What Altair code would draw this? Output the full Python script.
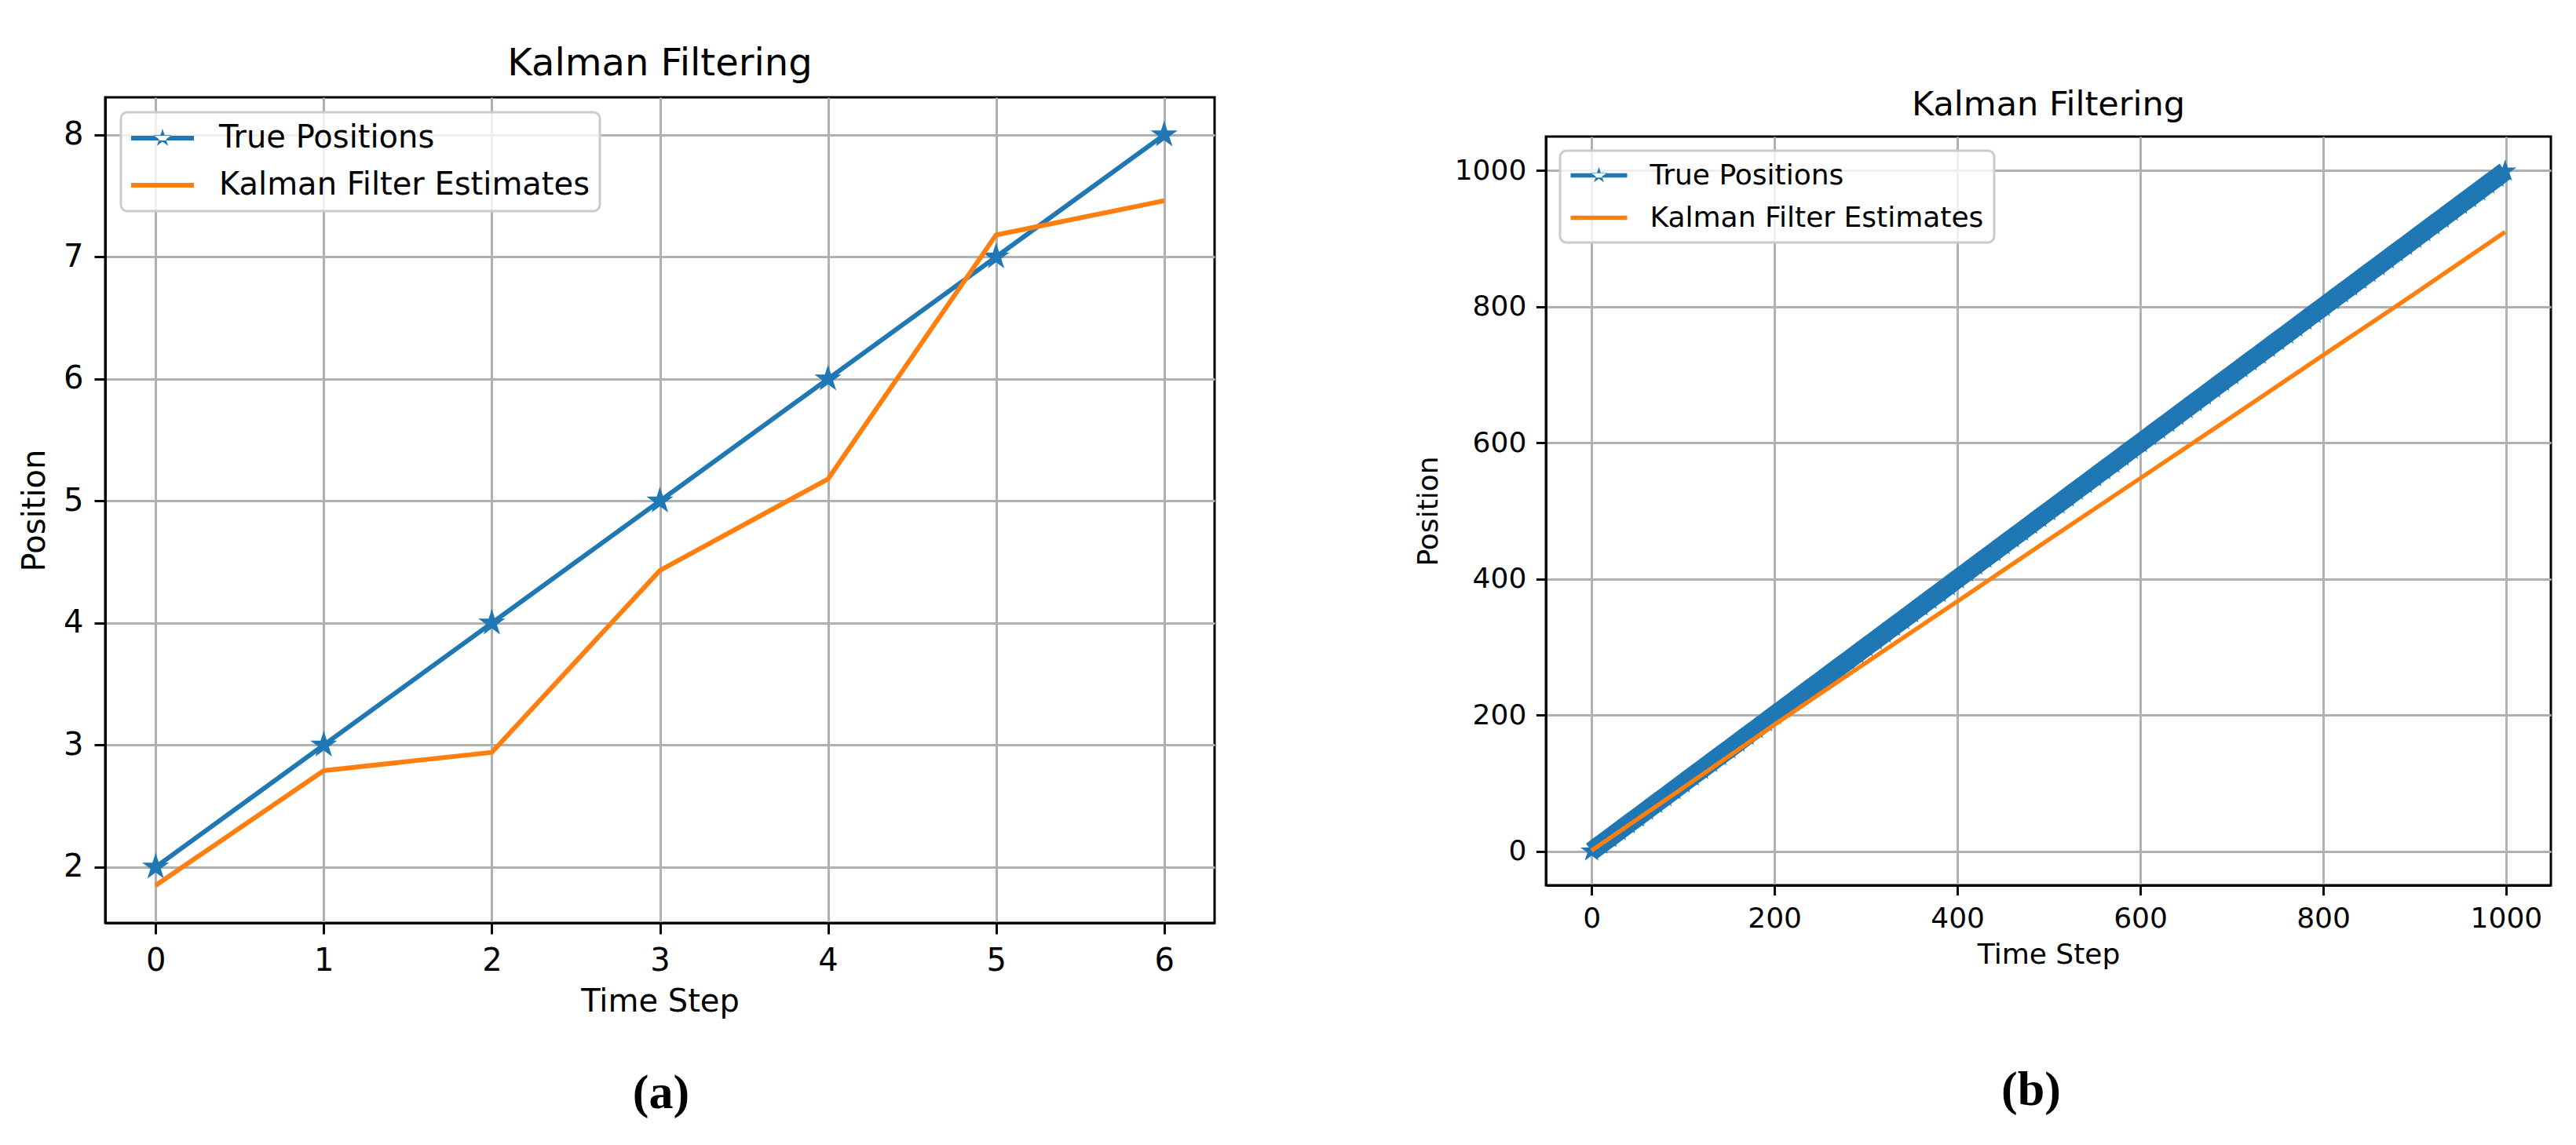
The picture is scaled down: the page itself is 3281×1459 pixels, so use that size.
import altair as alt
import pandas as pd

# ---------------- data ----------------
series_names = ["True Positions", "Kalman Filter Estimates"]
series_colors = ["#1f77b4", "#ff7f0e"]
panel_title = "Kalman Filtering"
x_title = "Time Step"
y_title = "Position"
captions = ["(a)", "(b)"]

# panel (a)
a_steps = [0, 1, 2, 3, 4, 5, 6]
a_true = [2, 3, 4, 5, 6, 7, 8]
a_kalman = [1.85, 2.79, 2.94, 4.43, 5.18, 7.18, 7.46]
a_x_ticks = [0, 1, 2, 3, 4, 5, 6]
a_y_ticks = [2, 3, 4, 5, 6, 7, 8]

# panel (b)
b_true_steps = [0, 10, 20, 30, 40, 50, 60, 70, 80, 90,
                100, 110, 120, 130, 140, 150, 160, 170, 180, 190,
                200, 210, 220, 230, 240, 250, 260, 270, 280, 290,
                300, 310, 320, 330, 340, 350, 360, 370, 380, 390,
                400, 410, 420, 430, 440, 450, 460, 470, 480, 490,
                500, 510, 520, 530, 540, 550, 560, 570, 580, 590,
                600, 610, 620, 630, 640, 650, 660, 670, 680, 690,
                700, 710, 720, 730, 740, 750, 760, 770, 780, 790,
                800, 810, 820, 830, 840, 850, 860, 870, 880, 890,
                900, 910, 920, 930, 940, 950, 960, 970, 980, 990, 999]
b_true = [0, 10, 20, 30, 40, 50, 60, 70, 80, 90,
          100, 110, 120, 130, 140, 150, 160, 170, 180, 190,
          200, 210, 220, 230, 240, 250, 260, 270, 280, 290,
          300, 310, 320, 330, 340, 350, 360, 370, 380, 390,
          400, 410, 420, 430, 440, 450, 460, 470, 480, 490,
          500, 510, 520, 530, 540, 550, 560, 570, 580, 590,
          600, 610, 620, 630, 640, 650, 660, 670, 680, 690,
          700, 710, 720, 730, 740, 750, 760, 770, 780, 790,
          800, 810, 820, 830, 840, 850, 860, 870, 880, 890,
          900, 910, 920, 930, 940, 950, 960, 970, 980, 990, 999]
b_kalman_steps = [0, 100, 200, 300, 400, 500, 600, 700, 800, 900, 999]
b_kalman = [1, 93, 186, 277, 367, 458, 548, 638, 729, 819, 910]
b_ticks = [0, 200, 400, 600, 800, 1000]

# ---------------- symbols ----------------
STAR = ("M0,-1L-0.225,-0.309L-0.951,-0.309L-0.363,0.118L-0.588,0.809"
        "L0,0.382L0.588,0.809L0.363,0.118L0.951,-0.309L0.225,-0.309Z")
# legend handles: a bar spanning 4 units (2x the symbol cell) with optional star
LEG_LINE = "M-1,-0.15H3V0.15H-1Z"
LEG_STAR = ("M-1,-0.15H3V0.15H-1Z"
            "M1,-0.6L0.865,-0.1854L0.4294,-0.1854L0.7822,0.0708L0.6472,0.4854"
            "L1,0.2292L1.3528,0.4854L1.2178,0.0708L1.5706,-0.1854L1.135,-0.1854Z")

FONT = "DejaVu Sans"


def make_axis(values, fs, tick, lw, title_pad):
    return alt.Axis(values=values, format="d", labelFont=FONT, labelFontSize=fs,
                    labelColor="black", titleFont=FONT, titleFontSize=fs,
                    titleFontWeight="normal", titleColor="black", tickSize=tick,
                    tickWidth=lw, tickColor="black", labelPadding=tick,
                    domainColor="black", domainWidth=lw, grid=True,
                    gridColor="#b0b0b0", gridWidth=lw, titlePadding=title_pad,
                    labelFlush=False, labelOverlap=False)


def panel(steps_t, vals_t, steps_k, vals_k, x_dom, y_dom, x_ticks, y_ticks,
          w, h, fs, tick, lw, line_w, true_w, star_size, xt_pad, yt_pad,
          leg_x, leg_y, leg_sym, leg_off, leg_row, leg_pad,
          caption, cap_x, cap_y, cap_fs):
    df_t = pd.DataFrame({"step": steps_t, "value": vals_t, "series": series_names[0]})
    df_k = pd.DataFrame({"step": steps_k, "value": vals_k, "series": series_names[1]})
    df_all = pd.concat([df_t, df_k], ignore_index=True)

    x = alt.X("step:Q", title=x_title,
              scale=alt.Scale(domain=x_dom, nice=False, zero=False),
              axis=make_axis(x_ticks, fs, tick, lw, xt_pad))
    y = alt.Y("value:Q", title=y_title,
              scale=alt.Scale(domain=y_dom, nice=False, zero=False),
              axis=make_axis(y_ticks, fs, tick, lw, yt_pad))

    leg = alt.Legend(title=None, orient="none", legendX=leg_x, legendY=leg_y,
                     direction="vertical", labelFont=FONT, labelFontSize=fs,
                     labelColor="black", symbolSize=leg_sym, symbolStrokeWidth=0,
                     labelOffset=leg_off, rowPadding=leg_row, padding=leg_pad,
                     fillColor="rgba(255,255,255,0.8)", strokeColor="#cccccc",
                     cornerRadius=8, symbolOpacity=1, labelLimit=2000)

    true_line = alt.Chart(df_t).mark_line(strokeWidth=true_w).encode(
        x=x, y=y, color=alt.value(series_colors[0]))
    stars = alt.Chart(df_t).mark_point(shape=STAR, filled=True, size=star_size,
                                       opacity=1, strokeWidth=0).encode(
        x=x, y=y, color=alt.value(series_colors[0]))
    kalman_line = alt.Chart(df_k).mark_line(strokeWidth=line_w).encode(
        x=x, y=y, color=alt.value(series_colors[1]))
    legend_layer = alt.Chart(df_all).transform_filter("false").mark_point(
        filled=True, opacity=1, strokeWidth=0).encode(
        x=x, y=y,
        color=alt.Color("series:N", scale=alt.Scale(domain=series_names,
                                                    range=series_colors), legend=leg),
        shape=alt.Shape("series:N", scale=alt.Scale(domain=series_names,
                                                    range=[LEG_STAR, LEG_LINE]),
                        legend=leg))
    cap = alt.Chart(pd.DataFrame({"caption": [caption]})).mark_text(
        font="Liberation Serif", fontWeight="bold", fontSize=cap_fs,
        align="center", baseline="middle", color="black").encode(
        x=alt.value(cap_x), y=alt.value(cap_y), text="caption:N")

    return alt.layer(true_line, stars, kalman_line, legend_layer, cap).properties(
        width=w, height=h)


left = panel(a_steps, a_true, a_steps, a_kalman, [-0.3, 6.3], [1.5425, 8.3075],
             a_x_ticks, a_y_ticks, 1413, 1052, 40, 14, 3, 6, 6, 1300,
             12, 16, 20, 19, 1600, 72, 20, 13,
             captions[0], 708, 1269, 62).properties(
    title=alt.TitleParams(text=panel_title, font=FONT, fontSize=48,
                          fontWeight="normal", color="black", anchor="middle",
                          offset=18))

right_panel = panel(b_true_steps, b_true, b_kalman_steps, b_kalman, [-50, 1049],
                    [-50, 1050], b_ticks, b_ticks, 1280, 954, 36, 12.6, 2.9, 5.4,
                    24, 900, 11, 14, 18, 18, 1296, 65, 18, 13.5,
                    captions[1], 618, 1215, 62)

# the right panel sits lower than the left one: its title lives in a strip above it
right_title = alt.Chart(pd.DataFrame({"t": [panel_title]})).mark_text(
    font=FONT, fontSize=43, align="center", baseline="middle", color="black").encode(
    x=alt.value(640), y=alt.value(10), text="t:N").properties(
    width=1280, height=44, view=alt.ViewBackground(strokeOpacity=0))

right = alt.vconcat(right_title, right_panel, spacing=0).resolve_scale(
    color="independent", shape="independent")

chart = alt.hconcat(left, right, spacing=250).properties(
    padding={"left": 15, "top": 48, "right": 5, "bottom": 5}
).resolve_scale(color="independent", shape="independent").configure_view(
    stroke="black", strokeWidth=3).configure_legend(strokeWidth=3)

chart.save("out.html", embed_options={"renderer": "svg", "actions": False})
